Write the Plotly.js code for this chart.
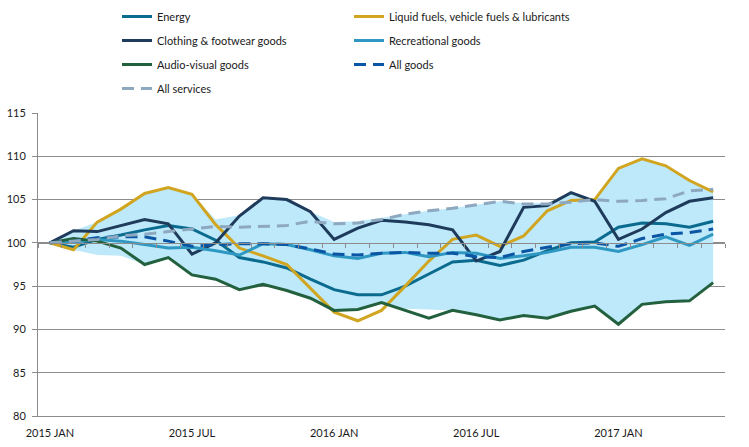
<!DOCTYPE html>
<html>
<head>
<meta charset="utf-8">
<script src="https://cdn.plot.ly/plotly-3.0.1.min.js"></script>
<style>
  html, body { margin: 0; padding: 0; background: #fff; }
  #chart { width: 749px; height: 447px; }
</style>
</head>
<body>
<div id="chart"></div>
<script>
"use strict"

const months = [
  "2015 JAN","2015 FEB","2015 MAR","2015 APR","2015 MAY","2015 JUN",
  "2015 JUL","2015 AUG","2015 SEP","2015 OCT","2015 NOV","2015 DEC",
  "2016 JAN","2016 FEB","2016 MAR","2016 APR","2016 MAY","2016 JUN",
  "2016 JUL","2016 AUG","2016 SEP","2016 OCT","2016 NOV","2016 DEC",
  "2017 JAN","2017 FEB","2017 MAR","2017 APR","2017 MAY"
]
const tickLabels = ["2015 JAN","2015 JUL","2016 JAN","2016 JUL","2017 JAN"]

const energy = [100, 99.5, 100.4, 100.9, 101.5, 102.0, 101.6, 100.3, 98.3, 97.8, 97.1, 95.8, 94.6, 94.0, 94.0,
  95.0, 96.4, 97.8, 98.0, 97.4, 98.0, 99.1, 100.0, 100.1, 101.8, 102.3, 102.2, 101.8, 102.5]
const liquidFuels = [100, 99.2, 102.4, 103.9, 105.7, 106.4, 105.6, 102.1, 99.4, 98.5, 97.5, 94.7, 92.0, 91.0, 92.2,
  95.0, 97.9, 100.4, 100.9, 99.6, 100.8, 103.7, 104.9, 105.0, 108.6, 109.7, 108.9, 107.2, 105.9]
const clothing = [100, 101.4, 101.3, 102.0, 102.7, 102.2, 98.7, 100.0, 103.1, 105.2, 105.0, 103.6, 100.4, 101.7, 102.6,
  102.4, 102.1, 101.5, 97.9, 99.0, 104.1, 104.3, 105.8, 104.8, 100.4, 101.6, 103.5, 104.8, 105.2]
const recreational = [100, 100.1, 100.4, 100.2, 99.8, 99.4, 99.5, 99.1, 98.6, 99.9, 99.8, 99.2, 98.5, 98.2, 98.8,
  98.9, 98.4, 98.9, 98.8, 98.2, 98.5, 98.9, 99.5, 99.5, 99.0, 99.8, 100.7, 99.7, 101.0]
const audioVisual = [100, 100.5, 100.2, 99.4, 97.5, 98.3, 96.3, 95.8, 94.6, 95.2, 94.5, 93.6, 92.2, 92.3, 93.1,
  92.2, 91.3, 92.2, 91.7, 91.1, 91.6, 91.3, 92.1, 92.7, 90.6, 92.9, 93.2, 93.3, 95.4]
const allGoods = [100, 100.2, 100.6, 100.7, 100.7, 100.2, 99.6, 99.8, 99.9, 99.9, 99.8, 99.3, 98.7, 98.6, 98.8,
  98.9, 98.8, 98.8, 98.4, 98.3, 99.0, 99.5, 99.9, 100.0, 99.6, 100.5, 101.0, 101.2, 101.6]
const allServices = [100, 100.2, 100.4, 100.8, 101.0, 101.3, 101.6, 101.9, 101.8, 101.9, 102.0, 102.5, 102.2, 102.3, 102.7,
  103.3, 103.7, 104.0, 104.4, 104.8, 104.5, 104.5, 104.7, 105.0, 104.8, 104.9, 105.1, 106.0, 106.2]
const bandHigh = [100, 101.4, 102.4, 103.9, 105.7, 106.4, 105.6, 102.7, 103.2, 105.2, 105.0, 103.6, 102.4, 102.5, 102.9,
  103.3, 103.7, 104.0, 104.4, 104.8, 104.6, 104.6, 105.8, 105.0, 108.6, 109.7, 108.9, 107.2, 105.9]
const bandLow = [100, 99.2, 98.6, 98.5, 97.5, 98.3, 96.3, 95.8, 94.6, 95.2, 94.5, 93.6, 92.2, 92.3, 93.0,
  92.4, 92.3, 92.2, 91.7, 91.1, 91.6, 91.3, 92.1, 92.7, 90.6, 92.9, 93.2, 93.3, 95.4]

const FONT = "Lato, 'Noto Sans', sans-serif"
const GRID = "#8c8c8c"

const line = (name, y, color, legend, dash) => ({
  x: months, y: y, name: name, type: "scatter", mode: "lines",
  line: {color: color, width: 3, dash: dash || "solid"},
  legend: legend, legendgroup: name, hoverinfo: "skip",
})

const data = [
  {x: months, y: bandLow, type: "scatter", mode: "lines", line: {width: 0},
   showlegend: false, hoverinfo: "skip"},
  {x: months, y: bandHigh, type: "scatter", mode: "lines", line: {width: 0},
   fill: "tonexty", fillcolor: "#bde9fa", showlegend: false, hoverinfo: "skip"},
  line("Energy", energy, "#0b6b8f", "legend"),
  line("Liquid fuels, vehicle fuels & lubricants", liquidFuels, "#d1a51f", "legend2"),
  line("Clothing & footwear goods", clothing, "#1f3b5b", "legend"),
  line("Recreational goods", recreational, "#2e98c3", "legend2"),
  line("Audio-visual goods", audioVisual, "#23603e", "legend"),
  line("All goods", allGoods, "#0b56a4", "legend2", "12px,7px"),
  line("All services", allServices, "#8ea8c0", "legend", "12px,7px"),
  // invisible trace that carries the category axis drawn at 100
  {x: months, y: months.map(() => null), xaxis: "x2", type: "scatter", mode: "lines",
   showlegend: false, hoverinfo: "skip"},
]

const legendBase = {
  xref: "container", yref: "container", xanchor: "left", yanchor: "top",
  y: 1 - 2/447, bgcolor: "rgba(0,0,0,0)", borderwidth: 0,
  font: {family: FONT, size: 11, color: "#1a1a1a"},
  traceorder: "grouped", tracegroupgap: 5,
}

const layout = {
  width: 749, height: 447,
  margin: {l: 38, r: 24, t: 113, b: 31, pad: 0, autoexpand: false},
  paper_bgcolor: "#fff", plot_bgcolor: "#fff",
  font: {family: FONT, size: 11, color: "#1a1a1a"},
  showlegend: true,
  legend: Object.assign({}, legendBase, {x: 117/749}),
  legend2: Object.assign({}, legendBase, {x: 349/749}),
  xaxis: {
    type: "category", range: [-0.5, 28.5], fixedrange: true,
    tickmode: "array", tickvals: tickLabels, ticktext: tickLabels, tickangle: 0,
    ticks: "", ticklabelstandoff: 7, showgrid: false, zeroline: false,
    showline: true, linecolor: GRID, linewidth: 1,
    tickfont: {family: FONT, size: 11, color: "#1a1a1a"},
  },
  xaxis2: {
    type: "category", overlaying: "x", anchor: "free", position: 20/35,
    range: [-0.5, 28.5], fixedrange: true,
    tickmode: "linear", dtick: 1, tickson: "boundaries",
    ticks: "outside", ticklen: 4, tickcolor: GRID, tickwidth: 1,
    showticklabels: false, showgrid: false, zeroline: false,
    showline: true, linecolor: GRID, linewidth: 1,
  },
  yaxis: {
    range: [80, 115], fixedrange: true, tickmode: "linear", tick0: 80, dtick: 5,
    showgrid: true, gridcolor: GRID, gridwidth: 1, zeroline: false,
    showline: true, linecolor: GRID, linewidth: 1,
    ticks: "outside", ticklen: 5, tickcolor: GRID, ticklabelstandoff: 4,
    tickfont: {family: FONT, size: 11, color: "#1a1a1a"},
  },
}

Plotly.newPlot("chart", data, layout, {displayModeBar: false, staticPlot: true})
</script>
</body>
</html>
